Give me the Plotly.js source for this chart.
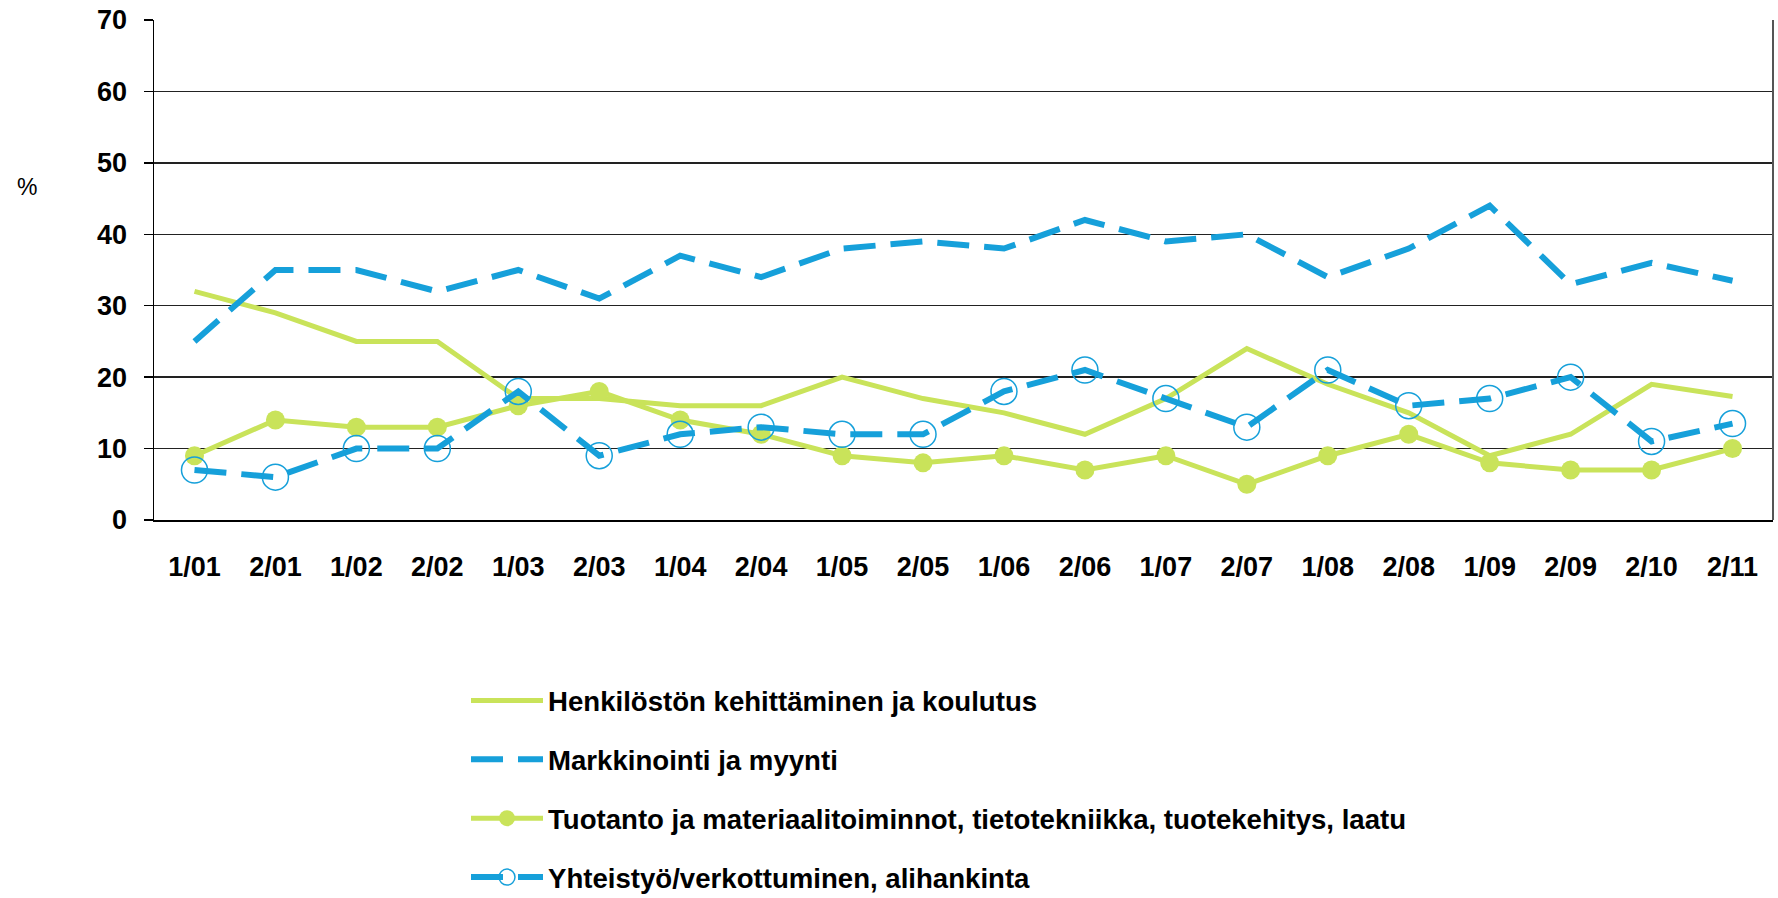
<!DOCTYPE html>
<html>
<head>
<meta charset="utf-8">
<script src="https://cdn.plot.ly/plotly-3.0.1.min.js"></script>
<style>html,body{margin:0;padding:0;background:#fff;}#chart{width:1778px;height:898px;}</style>
</head>
<body>
<div id="chart"></div>
<script>
const categories = ["1/01","2/01","1/02","2/02","1/03","2/03","1/04","2/04","1/05","2/05","1/06","2/06","1/07","2/07","1/08","2/08","1/09","2/09","2/10","2/11"];
const henkilosto = [32,29,25,25,17,17,16,16,20,17,15,12,17,24,19,15,9,12,19,17.3];
const markkinointi = [25,35,35,32,35,31,37,34,38,39,38,42,39,40,34,38,44,33,36,33.5];
const tuotanto = [9,14,13,13,16,18,14,12,9,8,9,7,9,5,9,12,8,7,7,10];
const yhteistyo = [7,6,10,10,18,9,12,13,12,12,18,21,17,13,21,16,17,20,11,13.5];
const seriesNames = ["Henkilöstön kehittäminen ja koulutus","Markkinointi ja myynti","Tuotanto ja materiaalitoiminnot, tietotekniikka, tuotekehitys, laatu","Yhteistyö/verkottuminen, alihankinta"];

const green = "#C9E35A";
const blue = "#16A0DA";

const traces = [
  {x: categories, y: henkilosto, name: seriesNames[0], type: "scatter", mode: "lines",
   line: {color: green, width: 5}, legendgroup: "a"},
  {x: categories, y: markkinointi, name: seriesNames[1], type: "scatter", mode: "lines",
   line: {color: blue, width: 6, dash: "32px,15px"}, legendgroup: "b"},
  {x: categories, y: tuotanto, name: seriesNames[2], type: "scatter", mode: "lines+markers",
   line: {color: green, width: 5}, marker: {symbol: "circle", size: 19, color: green}, legendgroup: "c"},
  {x: categories, y: yhteistyo, name: seriesNames[3], type: "scatter", mode: "lines+markers",
   line: {color: blue, width: 6, dash: "32px,15px"},
   marker: {symbol: "circle-open", size: 26, color: blue, line: {width: 1.5, color: blue}}, legendgroup: "d"}
];

const fam = "Liberation Sans, Arial, sans-serif";

const layout = {
  width: 1778, height: 898,
  margin: {l: 154, r: 5, t: 20, b: 378, autoexpand: false},
  paper_bgcolor: "#fff", plot_bgcolor: "#fff",
  font: {family: fam, size: 27, color: "#000"},
  showlegend: true,
  legend: {x: (466 - 154) / 1619, xanchor: "left", y: -0.312, yanchor: "top", orientation: "v",
           font: {family: fam, size: 27.6, color: "#000", weight: "bold"},
           tracegroupgap: 20, itemwidth: 72, bgcolor: "rgba(0,0,0,0)"},
  xaxis: {type: "category", range: [-0.5, 19.5], showgrid: false, showline: true, linecolor: "#000", linewidth: 1.5,
          mirror: false, ticks: "", tickfont: {family: fam, size: 27, weight: "bold"}, fixedrange: true, ticklabelstandoff: 22},
  yaxis: {range: [0, 70], dtick: 10, showgrid: true, gridcolor: "#222", gridwidth: 1.5,
          showline: true, linecolor: "#000", linewidth: 1.5, mirror: false,
          ticks: "outside", ticklen: 9, tickcolor: "#000", tickwidth: 1.5, ticklabelstandoff: 11,
          tickfont: {family: fam, size: 27, weight: "bold"}, zeroline: false, fixedrange: true},
  shapes: [
    {type: "line", xref: "paper", yref: "paper", x0: 1, x1: 1, y0: 0, y1: 1, line: {color: "#555", width: 2}}
  ],
  annotations: [
    {text: "%", xref: "paper", yref: "paper", x: (27 - 154) / 1619, y: (520 - 187) / 500, xanchor: "center", yanchor: "middle",
     showarrow: false, font: {family: fam, size: 23, color: "#000"}}
  ]
};

Plotly.newPlot("chart", traces, layout, {displayModeBar: false, staticPlot: true});
</script>
</body>
</html>
